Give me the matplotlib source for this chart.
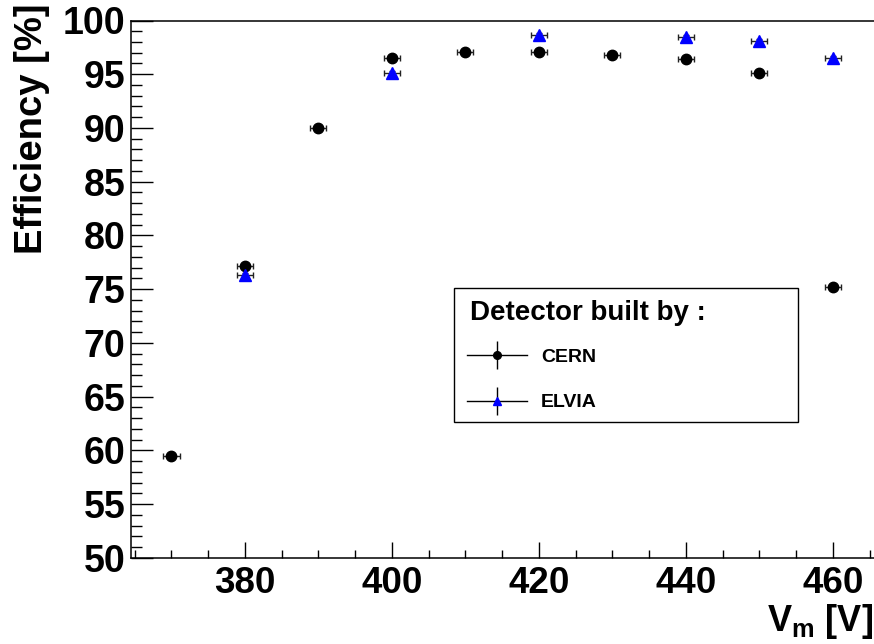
import numpy as np
import matplotlib.pyplot as plt
from matplotlib.lines import Line2D
from matplotlib.patches import Rectangle
from matplotlib.legend_handler import HandlerTuple

plt.rcParams['font.family'] = ['Liberation Sans', 'DejaVu Sans']
plt.rcParams['mathtext.fontset'] = 'custom'
plt.rcParams['mathtext.bf'] = 'Liberation Sans:bold'
plt.rcParams['mathtext.rm'] = 'Liberation Sans:bold'

# data
cern_v = [370, 380, 390, 400, 410, 420, 430, 440, 450, 460]
cern_eff = [59.5, 77.2, 90.0, 96.5, 97.1, 97.1, 96.8, 96.4, 95.1, 75.2]
elvia_v = [380, 400, 420, 440, 450, 460]
elvia_eff = [76.3, 95.1, 98.65, 98.45, 98.1, 96.5]
v_err = 1.1
eff_err = 0.2

fig = plt.figure(figsize=(8.74, 6.44), dpi=100)
ax = fig.add_axes([131/874, (644-557.8)/644, (874-131)/874, (557.8-20.5)/644])

ax.errorbar(cern_v, cern_eff, xerr=v_err, yerr=eff_err, fmt='o', color='black',
            ecolor='#222222', elinewidth=1, capsize=2.3, capthick=1, markersize=7.5)
ax.errorbar(elvia_v, elvia_eff, xerr=v_err, yerr=eff_err, fmt='^', color='blue',
            mec='blue', ecolor='#222222', elinewidth=1, capsize=2.3, capthick=1,
            markersize=8)

ax.set_xlim(364.5, 465.6)
ax.set_ylim(50, 100)
ax.set_xticks(np.arange(380, 461, 20))
ax.set_xticks(np.arange(365, 466, 5), minor=True)
ax.set_yticks(np.arange(50, 101, 5))
ax.set_yticks(np.arange(50, 101, 1), minor=True)

ax.spines['right'].set_visible(False)
for s in ['top', 'left', 'bottom']:
    ax.spines[s].set_linewidth(1.1)

ax.tick_params(axis='x', which='major', direction='in', length=11.5, width=1,
               labelsize=26.5, pad=6)
ax.tick_params(axis='x', which='minor', direction='in', length=5.8, width=1)
ax.tick_params(axis='y', which='major', direction='in', length=16, width=1,
               labelsize=27, pad=4)
ax.tick_params(axis='y', which='minor', direction='in', length=8, width=1)
for lab in ax.get_xticklabels() + ax.get_yticklabels():
    lab.set_fontweight('bold')

fig.text(14/874, 1 - 4/644, 'Efficiency [%]', rotation=90, ha='left', va='top',
         fontsize=27.5, fontweight='bold')
fig.text(873/874, 3/644, r'V$_{\mathbf{m}}$ [V]', ha='right', va='bottom',
         fontsize=26, fontweight='bold')

# legend box + header
fig.patches.append(Rectangle((454/874, 1 - 422/644), (798-454)/874, (422-288)/644,
                             transform=fig.transFigure, fill=False,
                             edgecolor='black', linewidth=1))
fig.text(470/874, 1 - 313/644, 'Detector built by :', ha='left', va='center',
         fontsize=20, fontweight='bold')

hline = Line2D([], [], color='black', lw=1)
vbar = Line2D([], [], color='black', marker='|', markersize=20, mew=1, ls='none')
h_cern = (hline, vbar, Line2D([], [], color='black', marker='o', markersize=5.5, ls='none'))
h_elvia = (hline, vbar, Line2D([], [], color='blue', marker='^', markersize=6, ls='none'))

leg = fig.legend([h_cern, h_elvia], ['CERN', 'ELVIA'],
                 handler_map={tuple: HandlerTuple(ndivide=1)},
                 loc='center left', bbox_to_anchor=(463/874, 1 - 380/644),
                 bbox_transform=fig.transFigure, frameon=False,
                 prop={'size': 14, 'weight': 'bold'},
                 handlelength=3.1, handletextpad=0.7, labelspacing=1.42,
                 borderpad=0.2, borderaxespad=0)

fig.savefig('out.png', dpi=100)
